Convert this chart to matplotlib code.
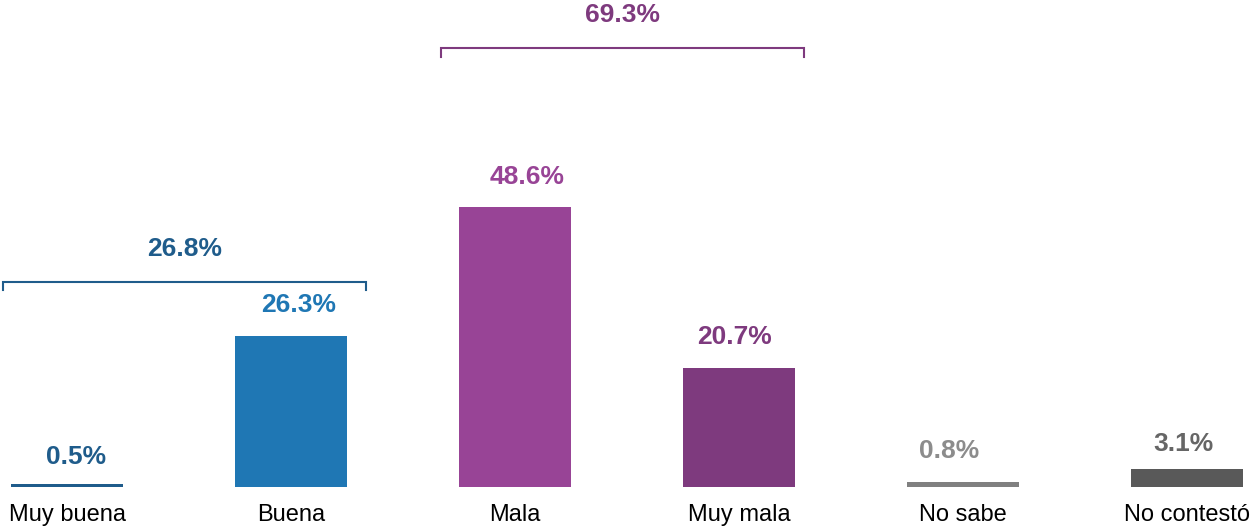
import matplotlib
matplotlib.use("Agg")
import matplotlib.pyplot as plt

categories = ["Muy buena", "Buena", "Mala", "Muy mala", "No sabe", "No contestó"]
values = [0.5, 26.3, 48.6, 20.7, 0.8, 3.1]
bar_colors = ["#1F5C8B", "#1F77B4", "#984496", "#7E3A7E", "#808080", "#595959"]
label_colors = ["#1F5C8B", "#1F77B4", "#984496", "#7E3A7E", "#8C8C8C", "#666666"]
group_labels = ["26.8%", "69.3%"]
group_colors = ["#1F5C8B", "#7E3A7E"]

# label placement offsets (pixels) relative to bar top-center
label_dx = [8.5, 7, 12, -5, -13.5, -4]
label_dy = [27, 31, 30.5, 31, 31, 25.5]

plt.rcParams['font.family'] = ['Liberation Sans', 'DejaVu Sans']

fig = plt.figure(figsize=(12.52, 5.28), dpi=100)
ax = fig.add_axes([0, 41/528, 1, 487/528])
x = list(range(len(categories)))
ax.bar(x, values, width=0.5, color=bar_colors)
for xi, v, c, dx, dy in zip(x, values, label_colors, label_dx, label_dy):
    ax.annotate(f"{v:.1f}%", (xi, v), xytext=(dx * 0.72, dy * 0.72),
                textcoords="offset points", ha="center", va="center",
                fontsize=19, fontweight="bold", color=c)

ax.set_xlim(-0.3, 5.29)
ax.set_ylim(0, 84.55)
ax.set_xticks(x)
ax.set_xticklabels(categories, fontsize=17)
ax.tick_params(axis="x", length=0, pad=12)
ax.set_yticks([])
for s in ax.spines.values():
    s.set_visible(False)

# brackets
def bracket(x0, x1, y, drop, label, color, ly):
    ax.plot([x0, x0, x1, x1], [y - drop, y, y, y - drop], color=color, lw=1.5,
            clip_on=False, solid_joinstyle="miter")
    ax.text((x0 + x1) / 2, ly, label, ha="center", va="center",
            fontsize=19, fontweight="bold", color=color)

bracket(0 - 0.286, 1 + 0.335, 35.6, 1.4, group_labels[0], group_colors[0], 41.3)
bracket(2 - 0.33, 3 + 0.29, 76.3, 1.6, group_labels[1], group_colors[1], 81.9)

fig.savefig("out.png", dpi=100)
